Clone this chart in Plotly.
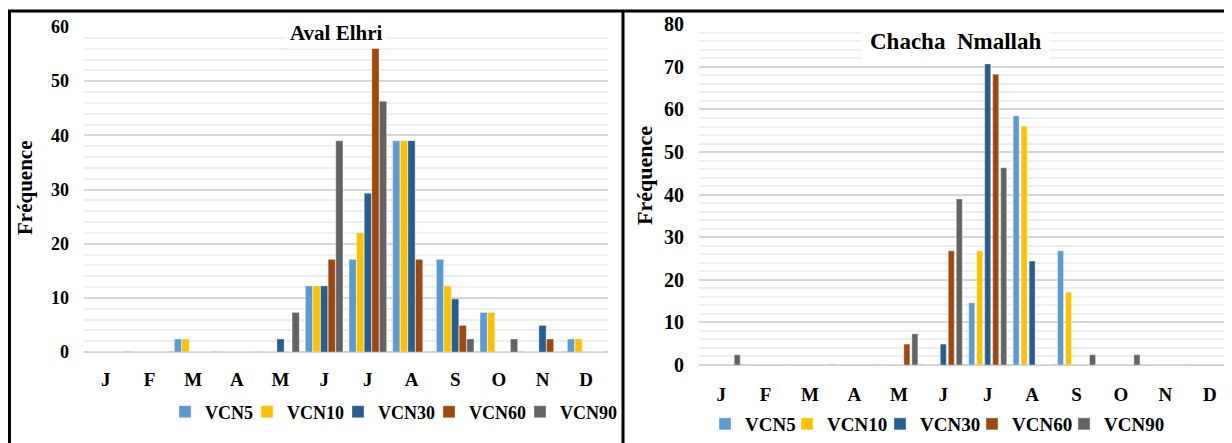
import plotly.graph_objects as go

# page body has an 8px margin, so the figure is 8px smaller on each axis
OFF = 8
FW, FH = 1232 - OFF, 443 - OFF

months = ["J", "F", "M", "A", "M", "J", "J", "A", "S", "O", "N", "D"]
series = ["VCN5", "VCN10", "VCN30", "VCN60", "VCN90"]
colors = ["#5b9bd5", "#ffc000", "#255e91", "#9e480e", "#636363"]

# Aval Elhri (%)
aval_vcn5 = [0, 0, 2.4, 0, 0, 12.2, 17.1, 39.0, 17.1, 7.3, 0, 2.4]
aval_vcn10 = [0, 0, 2.4, 0, 0, 12.2, 22.0, 39.0, 12.2, 7.3, 0, 2.4]
aval_vcn30 = [0, 0, 0, 0, 2.4, 12.2, 29.3, 39.0, 9.8, 0, 4.9, 0]
aval_vcn60 = [0, 0, 0, 0, 0, 17.1, 56.1, 17.1, 4.9, 0, 2.4, 0]
aval_vcn90 = [0, 0, 0, 0, 7.3, 39.0, 46.3, 0, 2.4, 2.4, 0, 0]

# Chacha Nmallah (%)
chacha_vcn5 = [0, 0, 0, 0, 0, 0, 14.6, 58.5, 26.8, 0, 0, 0]
chacha_vcn10 = [0, 0, 0, 0, 0, 0, 26.8, 56.1, 17.1, 0, 0, 0]
chacha_vcn30 = [0, 0, 0, 0, 0, 4.9, 70.7, 24.4, 0, 0, 0, 0]
chacha_vcn60 = [0, 0, 0, 0, 4.9, 26.8, 68.3, 0, 0, 0, 0, 0]
chacha_vcn90 = [2.4, 0, 0, 0, 7.3, 39.0, 46.3, 0, 2.4, 2.4, 0, 0]

aval = [aval_vcn5, aval_vcn10, aval_vcn30, aval_vcn60, aval_vcn90]
chacha = [chacha_vcn5, chacha_vcn10, chacha_vcn30, chacha_vcn60, chacha_vcn90]

FONT = "Liberation Serif"

# legend symbol centres (screenshot px) for each panel
leg_left_x = [187, 269, 360, 451, 542]
leg_right_x = [727, 809, 902, 994, 1086]

# right panel: thinner bars with small gaps (fraction of a category)
R_SLOT, R_BAR = 0.18, 0.135


# positions measured on the screenshot, converted to figure fractions
def px(x):
    return (x - OFF) / FW


def py(y):
    return 1 - (y - OFF) / FH


x_idx = list(range(len(months)))

fig = go.Figure()
legends = {}

# one single-entry legend per series, so every entry sits where it should
panels = [
    (aval, "x", "y", leg_left_x, 412, 18),
    (chacha, "x2", "y2", leg_right_x, 424, 19),
]
n = 0
for data, xa, ya, leg_x, leg_y, fsize in panels:
    for i, (name, vals, c, lx) in enumerate(zip(series, data, colors, leg_x)):
        n += 1
        lid = "legend" if n == 1 else f"legend{n}"
        bar = go.Bar(
            x=x_idx, y=vals, name=name,
            marker=dict(color=c, line=dict(color="rgba(255,255,255,0.6)", width=0.6)),
            xaxis=xa, yaxis=ya, legend=lid, offsetgroup=name,
        )
        if xa == "x2":
            bar.width = R_BAR
            bar.offset = (i - 2.5) * R_SLOT + (R_SLOT - R_BAR) / 2
        fig.add_trace(bar)
        legends[lid] = dict(
            x=px(lx - 22), y=py(leg_y), xanchor="left", yanchor="middle",
            xref="container", yref="container", orientation="h",
            itemwidth=30, bgcolor="rgba(0,0,0,0)",
            font=dict(family=FONT, size=fsize, color="black", weight="bold"),
        )

grid = dict(
    showgrid=True, gridcolor="#d6d6d6", gridwidth=1.6, dtick=10,
    minor=dict(dtick=2, showgrid=True, gridcolor="#efefef", gridwidth=1.6),
    zeroline=True, zerolinecolor="#d0d0d0", zerolinewidth=2,
    showline=False, ticks="", automargin=False,
    ticklabelstandoff=14, fixedrange=True,
)

xcommon = dict(
    tickmode="array", tickvals=x_idx, ticktext=months,
    showgrid=False, zeroline=False, showline=False, ticks="", automargin=False,
    tickfont=dict(family=FONT, size=19, color="black", weight="bold"),
    range=[-0.5, 11.5],
)

fig.update_layout(
    width=FW, height=FH,
    margin=dict(l=0, r=0, t=0, b=0, autoexpand=False),
    paper_bgcolor="white", plot_bgcolor="white",
    barmode="group", bargap=0.13, bargroupgap=0.05,
    xaxis=dict(domain=[px(84), px(608)], anchor="y", ticklabelstandoff=14, **xcommon),
    yaxis=dict(domain=[py(352), py(27)], anchor="x", range=[0, 60],
               tickfont=dict(family=FONT, size=18, color="black", weight="bold"), **grid),
    xaxis2=dict(domain=[px(699), px(1232)], anchor="y2", ticklabelstandoff=16, **xcommon),
    yaxis2=dict(domain=[py(365), py(24.3)], anchor="x2", range=[0, 80],
                tickfont=dict(family=FONT, size=20, color="black", weight="bold"), **grid),
    showlegend=True,
    **legends,
)

# chart titles with white boxes over the gridlines
fig.add_annotation(
    text="<b>Aval Elhri</b>", x=px(336), y=py(33), xref="paper", yref="paper",
    xanchor="center", yanchor="middle",
    showarrow=False, font=dict(family=FONT, size=21, color="black"),
    bgcolor="white", borderpad=3,
)
fig.add_annotation(
    text="<b>Chacha  Nmallah</b>", x=px(955), y=py(42), xref="paper", yref="paper",
    xanchor="center", yanchor="middle",
    showarrow=False, font=dict(family=FONT, size=23, color="black"),
    bgcolor="white", borderpad=8,
)

# y axis titles
fig.add_annotation(
    text="<b>Fréquence</b>", x=px(25), y=py(188), xref="paper", yref="paper",
    xanchor="center", yanchor="middle",
    showarrow=False, textangle=-90, font=dict(family=FONT, size=21, color="black"),
)
fig.add_annotation(
    text="<b>Fréquence</b>", x=px(644), y=py(176), xref="paper", yref="paper",
    xanchor="center", yanchor="middle",
    showarrow=False, textangle=-90, font=dict(family=FONT, size=22, color="black"),
)

# panel borders
border = dict(color="black", width=3)
fig.add_shape(type="line", xref="paper", yref="paper",
              x0=px(8), x1=1, y0=py(11), y1=py(11), line=border)
fig.add_shape(type="line", xref="paper", yref="paper",
              x0=px(9.5), x1=px(9.5), y0=py(11), y1=0, line=border)
fig.add_shape(type="line", xref="paper", yref="paper",
              x0=px(623), x1=px(623), y0=py(11), y1=0, line=border)

fig.write_html("out.html")
